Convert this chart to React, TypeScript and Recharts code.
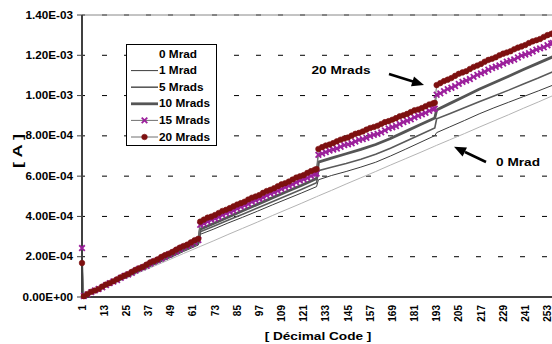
import React from 'react';
import { LineChart, Line, XAxis, YAxis, CartesianGrid, ReferenceLine } from 'recharts';

const FONT = '"Liberation Sans", Arial, sans-serif';

// DAC input codes where the marker series were read (every 2nd code, both sides of each jump)
const denseCodes = [
  1,
  2, 4, 6, 8, 10, 12, 14, 16, 18, 20, 22, 24, 26, 28, 30, 32, 34, 36, 38, 40, 42, 44, 46, 48, 50, 52, 54, 56, 58, 60, 62, 64,
  65, 67, 69, 71, 73, 75, 77, 79, 81, 83, 85, 87, 89, 91, 93, 95, 97, 99, 101, 103, 105, 107, 109, 111, 113, 115, 117, 119, 121, 123, 125, 127, 128,
  129, 131, 133, 135, 137, 139, 141, 143, 145, 147, 149, 151, 153, 155, 157, 159, 161, 163, 165, 167, 169, 171, 173, 175, 177, 179, 181, 183, 185, 187, 189, 191, 192,
  193, 195, 197, 199, 201, 203, 205, 207, 209, 211, 213, 215, 217, 219, 221, 223, 225, 227, 229, 231, 233, 235, 237, 239, 241, 243, 245, 247, 249, 251, 253, 255, 256,
];

// codes where the plain line series were read
const sparseCodes = [
  1, 2, 8, 16, 24, 32, 40, 48, 56, 64,
  65, 72, 80, 88, 96, 104, 112, 120, 128,
  129, 136, 144, 152, 160, 168, 176, 184, 192,
  193, 200, 208, 216, 224, 232, 240, 248, 256,
];

// output current, in µA
const mrad20 = [
  169,
  4, 15, 26, 32, 40, 52, 62, 69, 78, 88, 98, 106, 114, 125, 135, 143, 150, 161, 172, 179, 187, 199, 208, 215, 224, 235, 245, 253, 260, 271, 282, 289,
  374, 384, 394, 399, 407, 417, 427, 433, 441, 450, 459, 466, 473, 484, 493, 499, 506, 517, 526, 532, 540, 550, 559, 565, 573, 583, 593, 599, 605, 616, 625, 632, 635,
  735, 744, 752, 757, 764, 773, 781, 787, 792, 801, 810, 815, 822, 831, 839, 844, 850, 859, 868, 873, 880, 888, 897, 902, 909, 918, 927, 931, 938, 947, 956, 961, 964,
  1052, 1062, 1072, 1079, 1087, 1098, 1108, 1115, 1121, 1132, 1142, 1149, 1157, 1168, 1177, 1183, 1190, 1200, 1208, 1214, 1220, 1230, 1238, 1244, 1251, 1261, 1269, 1275, 1281, 1291, 1300, 1306, 1309,
];

const mrad15 = [
  243,
  5, 13, 24, 33, 40, 48, 59, 69, 77, 84, 95, 105, 112, 120, 131, 141, 147, 155, 166, 176, 183, 191, 201, 211, 219, 227, 238, 248, 254, 262, 273, 283,
  358, 365, 375, 383, 390, 397, 407, 416, 423, 429, 439, 448, 455, 462, 472, 480, 487, 494, 504, 513, 520, 527, 536, 545, 552, 559, 569, 578, 584, 591, 601, 610, 613,
  706, 712, 719, 727, 732, 737, 746, 754, 758, 763, 772, 780, 784, 790, 799, 805, 810, 817, 827, 837, 843, 849, 859, 868, 875, 882, 892, 900, 907, 914, 924, 933, 935,
  1004, 1011, 1022, 1032, 1039, 1047, 1058, 1068, 1074, 1082, 1093, 1103, 1110, 1118, 1128, 1137, 1143, 1150, 1159, 1168, 1173, 1179, 1189, 1198, 1204, 1210, 1219, 1228, 1234, 1240, 1250, 1259, 1261,
];

const mrad0 = [0, 4, 27, 59, 90, 122, 153, 184, 216, 247, 251, 278, 310, 341, 372, 404, 435, 466, 498, 502, 529, 561, 592, 623, 655, 686, 717, 749, 753, 780, 811, 843, 874, 905, 937, 968, 1000];
const mrad1 = [0, 4, 28, 62, 94, 127, 160, 192, 226, 258, 311, 336, 367, 396, 426, 457, 487, 517, 548, 582, 603, 623, 645, 669, 700, 733, 767, 801, 816, 844, 876, 909, 939, 967, 995, 1023, 1052];
const mrad5 = [0, 4, 29, 63, 96, 131, 164, 197, 232, 265, 324, 350, 381, 411, 442, 473, 504, 535, 567, 627, 644, 663, 684, 709, 739, 772, 805, 839, 885, 910, 939, 969, 998, 1027, 1058, 1087, 1118];
const mrad10 = [0, 4, 29, 65, 99, 134, 168, 203, 238, 272, 336, 364, 396, 428, 460, 492, 524, 555, 588, 670, 689, 711, 733, 757, 787, 821, 855, 889, 929, 960, 995, 1031, 1064, 1096, 1129, 1161, 1193];

const xTicks = [1, 13, 25, 37, 49, 61, 73, 85, 97, 109, 121, 133, 145, 157, 169, 181, 193, 205, 217, 229, 241, 253];
const yTicks = [0, 200, 400, 600, 800, 1000, 1200, 1400];
const yTickLabels = ['0.00E+00', '2.00E-04', '4.00E-04', '6.00E-04', '8.00E-04', '1.00E-03', '1.20E-03', '1.40E-03'];

const series = [
  { key: 'm0', name: '0 Mrad', codes: sparseCodes, values: mrad0, stroke: '#b4b4b4', width: 1, marker: '', inLegend: false },
  { key: 'm1', name: '1 Mrad', codes: sparseCodes, values: mrad1, stroke: '#3c3c3c', width: 1, marker: '', inLegend: true },
  { key: 'm5', name: '5 Mrads', codes: sparseCodes, values: mrad5, stroke: '#5a5a5a', width: 1.6, marker: '', inLegend: true },
  { key: 'm10', name: '10 Mrads', codes: sparseCodes, values: mrad10, stroke: '#555555', width: 2.8, marker: '', inLegend: true },
  { key: 'm15', name: '15 Mrads', codes: denseCodes, values: mrad15, stroke: '#707070', width: 1, marker: 'cross', inLegend: true },
  { key: 'm20', name: '20 Mrads', codes: denseCodes, values: mrad20, stroke: '#707070', width: 1, marker: 'circle', inLegend: true },
];

const PURPLE = '#9c1f9c';
const MAROON = '#7d1010';

// one table keyed by code, series that were not read at a code stay empty
const rows = new Map<number, any>();
series.forEach((s) => {
  s.codes.forEach((c, i) => {
    const row = rows.get(c) || { code: c };
    row[s.key] = s.values[i];
    rows.set(c, row);
  });
});
const table = Array.from(rows.values()).sort((a, b) => a.code - b.code);

const CrossDot = (p: any) => {
  if (p.cy == null || p.value == null) return null;
  const d = 2.8;
  return (
    <g key={p.key}>
      <path d={`M${p.cx - d},${p.cy - d}L${p.cx + d},${p.cy + d}M${p.cx - d},${p.cy + d}L${p.cx + d},${p.cy - d}`} stroke={PURPLE} strokeWidth={1.8} />
    </g>
  );
};

const CircleDot = (p: any) => {
  if (p.cy == null || p.value == null) return null;
  return <circle key={p.key} cx={p.cx} cy={p.cy} r={2.8} fill={MAROON} stroke={MAROON} strokeWidth={0.6} />;
};

const XTick = ({ x, y, payload }: any) => (
  <text
    transform={`translate(${x},${y}) rotate(-90)`}
    textAnchor="end"
    dy="0.36em"
    fontSize={10}
    fontWeight="bold"
    fontFamily={FONT}
    fill="#000"
  >
    {payload.value}
  </text>
);

const YTick = ({ x, y, payload }: any) => (
  <text
    transform={`translate(${x},${y}) scale(1.17,1)`}
    textAnchor="end"
    dy="0.36em"
    fontSize={10}
    fontWeight="bold"
    fontFamily={FONT}
    fill="#000"
  >
    {yTickLabels[yTicks.indexOf(payload.value)]}
  </text>
);

const LegendBox = () => {
  const rowY = [54, 70.6, 87.2, 103.8, 120.4, 137];
  return (
    <g>
      <rect x={126.5} y={44.5} width={90} height={101} fill="#fff" stroke="#000" strokeWidth={1} />
      {series.map((s, i) => (
        <g key={s.key}>
          {s.inLegend && <line x1={131} x2={158} y1={rowY[i]} y2={rowY[i]} stroke={s.stroke} strokeWidth={s.width} />}
          {s.marker === 'cross' && CrossDot({ cx: 144.5, cy: rowY[i], value: 1, key: 'lc' })}
          {s.marker === 'circle' && CircleDot({ cx: 144.5, cy: rowY[i], value: 1, key: 'lo' })}
          <text
            transform={`translate(159,${rowY[i]}) scale(1.18,1)`}
            dy="0.36em"
            fontSize={10}
            fontWeight="bold"
            fontFamily={FONT}
          >
            {s.name}
          </text>
        </g>
      ))}
    </g>
  );
};

const Annotations = () => (
  <svg width={552} height={344} style={{ position: 'absolute', left: 0, top: 0, pointerEvents: 'none' }}>
    <LegendBox />
    <text transform="translate(17,151) rotate(-90) scale(1.4,1)" textAnchor="middle" dy="0.36em" fontSize={13} fontWeight="bold" fontFamily={FONT}>
      [ A ]
    </text>
    <text transform="translate(318,340) scale(1.24,1)" textAnchor="middle" fontSize={11} fontWeight="bold" fontFamily={FONT}>
      [ Décimal Code ]
    </text>
    <text transform="translate(341,70) scale(1.24,1)" textAnchor="middle" dy="0.36em" fontSize={11} fontWeight="bold" fontFamily={FONT}>
      20 Mrads
    </text>
    <line x1={389} y1={74} x2={413} y2={81.5} stroke="#000" strokeWidth={2.5} />
    <polygon points="424,85 411,86.2 414,76.6" fill="#000" />
    <text transform="translate(518,162) scale(1.24,1)" textAnchor="middle" dy="0.36em" fontSize={11} fontWeight="bold" fontFamily={FONT}>
      0 Mrad
    </text>
    <line x1={486} y1={162} x2={465} y2={152} stroke="#000" strokeWidth={2.5} />
    <polygon points="454,146.7 467,147.5 462.6,156.5" fill="#000" />
  </svg>
);

export default function App() {
  return (
    <div style={{ position: 'absolute', left: 0, top: 0, width: 552, height: 344, overflow: 'hidden', background: '#fff' }}>
      <LineChart width={560} height={344} data={table} margin={{ top: 15, right: 7, bottom: 0, left: 0 }}>
        <CartesianGrid horizontal vertical={false} stroke="#000" strokeDasharray="5 17" strokeDashoffset={-20} />
        <ReferenceLine y={1400} stroke="#888" strokeWidth={1} />
        <XAxis
          dataKey="code"
          type="number"
          domain={[1, 256]}
          ticks={xTicks}
          interval={0}
          height={47}
          tickLine={false}
          tickSize={0}
          tickMargin={8}
          tick={<XTick />}
          axisLine={{ stroke: '#404040', strokeWidth: 2 }}
        />
        <YAxis
          type="number"
          domain={[0, 1400]}
          ticks={yTicks}
          interval={0}
          width={82}
          tickSize={5}
          tickMargin={4}
          tick={<YTick />}
          tickLine={{ stroke: '#404040' }}
          axisLine={{ stroke: '#404040', strokeWidth: 2 }}
        />
        {series.map((s) => (
          <Line
            key={s.key}
            dataKey={s.key}
            type="linear"
            stroke={s.stroke}
            strokeWidth={s.width}
            connectNulls
            dot={s.marker === 'cross' ? CrossDot : s.marker === 'circle' ? CircleDot : false}
            activeDot={false}
            isAnimationActive={false}
          />
        ))}
      </LineChart>
      <Annotations />
    </div>
  );
}
